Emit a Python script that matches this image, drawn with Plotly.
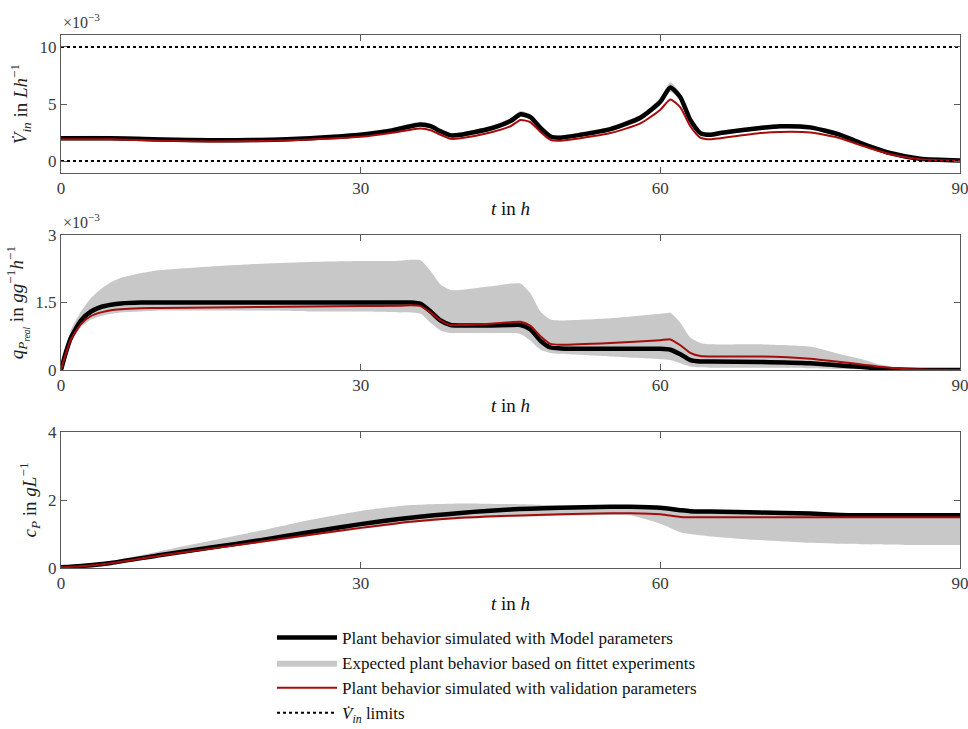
import plotly.graph_objects as go

# ---------------- data ----------------
# Panel 1: feed rate V_in (x 1e-3 L/h)
t1 = [0, 5, 10, 15, 20, 25, 30, 33, 35, 36, 37, 38, 39, 40, 43, 45, 46, 47, 48, 49, 50, 52, 55, 58, 60,
      61, 62, 63, 64, 65, 66, 70, 72, 75, 78, 80, 83, 86, 90]
vin_model = [2.0, 2.0, 1.88, 1.82, 1.85, 2.0, 2.3, 2.65, 3.05, 3.2, 3.05, 2.6, 2.25, 2.3, 2.85, 3.5, 4.1, 3.85,
             2.9, 2.15, 2.05, 2.3, 2.8, 3.8, 5.2, 6.45, 5.6, 3.6, 2.45, 2.3, 2.45, 2.9, 3.05, 2.95, 2.3, 1.6,
             0.7, 0.2, 0.05]
vin_valid = [1.9, 1.9, 1.78, 1.72, 1.75, 1.88, 2.12, 2.45, 2.75, 2.85, 2.7, 2.3, 1.95, 2.0, 2.5, 3.05, 3.6, 3.4,
             2.55, 1.85, 1.78, 2.0, 2.45, 3.3, 4.5, 5.4, 4.7, 3.05, 2.05, 1.9, 2.0, 2.45, 2.55, 2.5, 2.0, 1.4,
             0.6, 0.15, 0.03]
vin_upper = [2.2, 2.2, 2.08, 2.02, 2.05, 2.2, 2.5, 2.87, 3.28, 3.45, 3.3, 2.83, 2.45, 2.5, 3.07, 3.75, 4.38, 4.1,
             3.12, 2.35, 2.25, 2.5, 3.02, 4.08, 5.55, 6.9, 5.95, 3.85, 2.65, 2.5, 2.65, 3.1, 3.25, 3.15, 2.5,
             1.8, 0.88, 0.35, 0.15]
vin_lower = [1.85, 1.85, 1.73, 1.67, 1.7, 1.85, 2.13, 2.47, 2.85, 2.98, 2.85, 2.42, 2.08, 2.13, 2.66, 3.28, 3.85,
             3.62, 2.7, 1.98, 1.88, 2.12, 2.6, 3.55, 4.9, 6.05, 5.3, 3.4, 2.28, 2.12, 2.27, 2.7, 2.85, 2.76,
             2.12, 1.45, 0.55, 0.1, 0.0]
vin_limits = [0, 10]

# Panel 2: specific production rate q_P (x 1e-3 g/g/h)
t2 = [0, 0.5, 1, 2, 3, 4, 5, 6, 8, 10, 15, 20, 25, 30, 34, 35, 36, 37, 38, 39, 40, 43, 45, 46, 47, 48, 49, 50,
      55, 60, 61, 62, 63, 64, 65, 70, 75, 78, 80, 82, 84, 86, 90]
qp_model = [0, 0.4, 0.72, 1.1, 1.3, 1.4, 1.45, 1.48, 1.5, 1.5, 1.5, 1.5, 1.5, 1.5, 1.5, 1.5, 1.47, 1.3, 1.1,
            1.0, 0.99, 0.99, 1.0, 1.0, 0.9, 0.65, 0.5, 0.48, 0.47, 0.47, 0.45, 0.35, 0.22, 0.19, 0.19, 0.18,
            0.15, 0.1, 0.07, 0.03, 0.01, 0.0, 0.0]
qp_valid = [0, 0.38, 0.68, 1.02, 1.2, 1.28, 1.33, 1.35, 1.37, 1.38, 1.39, 1.4, 1.41, 1.42, 1.43, 1.44, 1.42,
            1.28, 1.1, 1.0, 1.0, 1.03, 1.06, 1.07, 0.98, 0.75, 0.58, 0.56, 0.6, 0.66, 0.68, 0.55, 0.38, 0.31,
            0.3, 0.3, 0.25, 0.18, 0.13, 0.07, 0.03, 0.01, 0.0]
qp_upper = [0, 0.5, 0.9, 1.3, 1.6, 1.8, 1.95, 2.05, 2.15, 2.22, 2.3, 2.36, 2.4, 2.42, 2.43, 2.45, 2.44, 2.2,
            1.9, 1.78, 1.78, 1.86, 1.92, 1.92, 1.7, 1.3, 1.12, 1.1, 1.15, 1.25, 1.27, 1.05, 0.72, 0.6, 0.57,
            0.57, 0.52, 0.35, 0.25, 0.12, 0.05, 0.01, 0.0]
qp_lower = [0, 0.3, 0.6, 0.95, 1.12, 1.2, 1.25, 1.28, 1.3, 1.32, 1.32, 1.32, 1.3, 1.3, 1.28, 1.28, 1.25, 1.05,
            0.88, 0.82, 0.82, 0.82, 0.82, 0.8, 0.65, 0.45, 0.38, 0.36, 0.3, 0.24, 0.22, 0.15, 0.08, 0.06,
            0.05, 0.05, 0.04, 0.02, 0.01, 0.0, 0.0, 0.0, 0.0]

# Panel 3: product concentration c_P (g/L)
t3 = [0, 2, 5, 10, 15, 20, 25, 30, 35, 40, 45, 50, 55, 57, 60, 62, 63, 65, 70, 75, 78, 80, 85, 90]
cp_model = [0.02, 0.06, 0.15, 0.38, 0.6, 0.82, 1.06, 1.29, 1.48, 1.62, 1.72, 1.77, 1.8, 1.8, 1.77, 1.7, 1.67,
            1.66, 1.63, 1.6, 1.56, 1.55, 1.55, 1.55]
cp_valid = [0.02, 0.05, 0.14, 0.37, 0.57, 0.77, 0.98, 1.18, 1.36, 1.48, 1.54, 1.58, 1.61, 1.61, 1.58, 1.5,
            1.49, 1.49, 1.49, 1.49, 1.49, 1.49, 1.49, 1.49]
cp_upper = [0, 0.06, 0.2, 0.5, 0.8, 1.1, 1.42, 1.68, 1.85, 1.9, 1.88, 1.84, 1.83, 1.83, 1.8, 1.74, 1.71, 1.7,
            1.67, 1.64, 1.6, 1.59, 1.59, 1.59]
cp_lower = [0, 0.04, 0.12, 0.34, 0.54, 0.74, 0.95, 1.14, 1.32, 1.44, 1.5, 1.54, 1.56, 1.55, 1.3, 1.05, 1.0,
            0.93, 0.82, 0.74, 0.71, 0.7, 0.68, 0.68]

x_ticks = [0, 30, 60, 90]
legend_names = ["Plant behavior simulated with Model parameters",
                "Expected plant behavior based on fittet experiments",
                "Plant behavior simulated with validation parameters",
                "<i>V̇</i><sub><i>in</i></sub> limits"]

# ---------------- styles ----------------
FONT = "Liberation Serif"
BLACK = "#000000"
RED = "#a50d0d"
GRAY = "#c8c8c8"
AXC = "#5a5a5a"
TXT = "#3a3a3a"

fig = go.Figure()

panels = [
    (t1, vin_model, vin_valid, vin_upper, vin_lower, "", "y"),
    (t2, qp_model, qp_valid, qp_upper, qp_lower, "2", "y2"),
    (t3, cp_model, cp_valid, cp_upper, cp_lower, "3", "y3"),
]

for i, (t, m, v, up, lo, sfx, yref) in enumerate(panels):
    xa = "x" + sfx
    first = i == 0
    fig.add_trace(go.Scatter(x=t, y=lo, xaxis=xa, yaxis=yref, mode="lines",
                             line=dict(width=0, color=GRAY, shape="spline", smoothing=0.6),
                             showlegend=False, hoverinfo="skip"))
    fig.add_trace(go.Scatter(x=t, y=up, xaxis=xa, yaxis=yref, mode="lines", fill="tonexty",
                             fillcolor=GRAY, line=dict(width=0, color=GRAY, shape="spline", smoothing=0.6),
                             name=legend_names[1], showlegend=first, legendrank=2))
    fig.add_trace(go.Scatter(x=t, y=m, xaxis=xa, yaxis=yref, mode="lines",
                             line=dict(width=4.5, color=BLACK, shape="spline", smoothing=0.6),
                             name=legend_names[0], showlegend=first, legendrank=1))
    fig.add_trace(go.Scatter(x=t, y=v, xaxis=xa, yaxis=yref, mode="lines",
                             line=dict(width=2, color=RED, shape="spline", smoothing=0.6),
                             name=legend_names[2], showlegend=first, legendrank=3))

for k, lim in enumerate(vin_limits):
    fig.add_trace(go.Scatter(x=[x_ticks[0], x_ticks[-1]], y=[lim, lim], xaxis="x", yaxis="y", mode="lines",
                             line=dict(width=2, color=BLACK, dash="dot"),
                             name=legend_names[3], showlegend=(k == 0), legendrank=4))

axis_common = dict(showline=True, linecolor=AXC, linewidth=1, mirror="ticks", ticks="inside",
                   ticklen=6, tickcolor=AXC, showgrid=False, zeroline=False,
                   ticklabeloverflow="allow", automargin=False,
                   tickfont=dict(family=FONT, size=17, color=TXT))

xt = dict(axis_common, range=[0, 90], tickvals=x_ticks,
          title=dict(text="<i>t</i> in <i>h</i>", font=dict(family=FONT, size=19, color="#111"), standoff=4))

M_L, M_R, M_T, M_B = 61, 8, 35, 161
H = 729 - M_T - M_B

def pdom(top_px, bot_px):
    return [(729 - M_B - bot_px) / H, (729 - M_B - top_px) / H]

fig.update_layout(
    width=968, height=729,
    margin=dict(l=M_L, r=M_R, t=M_T, b=M_B, autoexpand=False),
    plot_bgcolor="white", paper_bgcolor="white",
    font=dict(family=FONT, color=TXT),
    xaxis=dict(xt, domain=[0, 1], anchor="y"),
    xaxis2=dict(xt, domain=[0, 1], anchor="y2"),
    xaxis3=dict(xt, domain=[0, 1], anchor="y3"),
    yaxis=dict(axis_common, domain=pdom(35, 173), anchor="x", range=[-1.05, 11.05], tickvals=[0, 5, 10],
               title=dict(text="<i>V̇</i><sub><i>in</i></sub> in <i>Lh</i><sup>−1</sup>",
                          font=dict(family=FONT, size=19, color="#222"), standoff=6)),
    yaxis2=dict(axis_common, domain=pdom(235, 370), anchor="x2", range=[0, 3], tickvals=[0, 1.5, 3],
                title=dict(text="<i>q</i><sub><i>P</i><sub><i>real</i></sub></sub> in <i>gg</i><sup>−1</sup><i>h</i><sup>−1</sup>",
                           font=dict(family=FONT, size=19, color="#222"), standoff=6)),
    yaxis3=dict(axis_common, domain=pdom(432, 568), anchor="x3", range=[0, 4], tickvals=[0, 2, 4],
                title=dict(text="<i>c</i><sub><i>P</i></sub> in <i>gL</i><sup>−1</sup>",
                           font=dict(family=FONT, size=19, color="#222"), standoff=6)),
    showlegend=True,
    legend=dict(x=(272 - M_L) / (968 - M_L - M_R), y=1 - 620 / 729, yref="container",
                xanchor="left", yanchor="top",
                font=dict(family=FONT, size=17, color="#111"), bgcolor="rgba(0,0,0,0)",
                traceorder="normal", itemwidth=60),
    annotations=[
        dict(text="×10<sup>−3</sup>", xref="paper", yref="paper", x=0, y=pdom(35, 173)[1],
             xanchor="left", yanchor="bottom", showarrow=False, yshift=2,
             font=dict(family=FONT, size=16, color=TXT)),
        dict(text="×10<sup>−3</sup>", xref="paper", yref="paper", x=0, y=pdom(235, 370)[1],
             xanchor="left", yanchor="bottom", showarrow=False, yshift=2,
             font=dict(family=FONT, size=16, color=TXT)),
    ],
)

fig.write_html("out.html")
